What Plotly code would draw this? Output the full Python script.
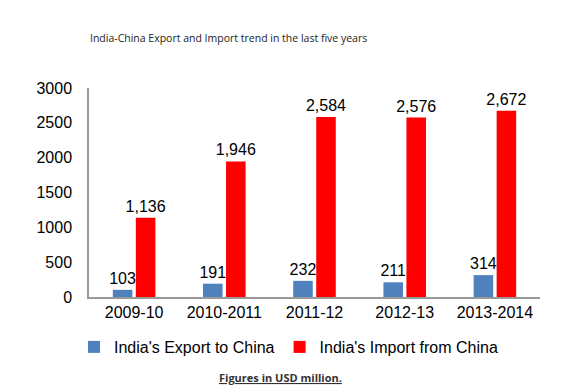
import plotly.graph_objects as go

categories = ["2009-10", "2010-2011", "2011-12", "2012-13", "2013-2014"]
exports = [103, 191, 232, 211, 314]
imports = [1136, 1946, 2584, 2576, 2672]
y_ticks = [0, 500, 1000, 1500, 2000, 2500, 3000]

font_main = "Liberation Sans, Arial, sans-serif"

fig = go.Figure()
fig.add_trace(go.Bar(
    x=categories, y=exports, name="India's Export to China",
    marker=dict(color="#4F81BD", line=dict(width=12, color="rgba(0,0,0,0)")),
    texttemplate="%{y:,}", textposition="outside",
    constraintext="none",
    textfont=dict(size=16, color="black", family=font_main), cliponaxis=False,
))
fig.add_trace(go.Bar(
    x=categories, y=imports, name="India's Import from China",
    marker=dict(color="#FF0000", line=dict(width=12, color="rgba(0,0,0,0)")),
    texttemplate="%{y:,}", textposition="outside",
    constraintext="none",
    textfont=dict(size=16, color="black", family=font_main), cliponaxis=False,
))

fig.update_layout(
    width=574, height=391,
    margin=dict(l=89, r=34, t=88, b=94, autoexpand=False),
    paper_bgcolor="white", plot_bgcolor="white",
    barmode="group", bargap=0.49, bargroupgap=0.15,
    font=dict(family=font_main, size=16, color="black"),
    showlegend=True,
    legend=dict(orientation="h", xref="container", yref="container",
                x=74 / 574, xanchor="left", y=1 - 347 / 391, yanchor="middle",
                font=dict(size=16, family=font_main), itemwidth=30,
                bgcolor="rgba(0,0,0,0)"),
    annotations=[
        dict(text="India-China Export and Import trend in the last five years",
             xref="paper", yref="paper", x=(88 - 89) / 451, y=(297 - 38) / 209, showarrow=False,
             xanchor="left", yanchor="middle",
             font=dict(family="Open Sans, sans-serif", size=10.5, color="#222222")),
        dict(text="<b><u>Figures in USD million.</u></b>",
             xref="paper", yref="paper", x=(280 - 89) / 451, y=-(377 - 297) / 209, showarrow=False,
             xanchor="center", yanchor="middle",
             font=dict(family="Open Sans, sans-serif", size=11, color="#333333")),
    ],
)
fig.update_xaxes(type="category", showline=True, linecolor="#999999", linewidth=1.5, ticks="",
                 tickfont=dict(size=16), showgrid=False, automargin=False)
fig.update_yaxes(range=[0, 3000], tickvals=y_ticks, showline=True, linecolor="#999999",
                 linewidth=1.5, ticks="", showgrid=False, zeroline=False, automargin=False,
                 tickfont=dict(size=16), ticklabelstandoff=12)

fig.write_html("out.html", config={"displayModeBar": False},
               post_script="document.body.style.margin='0';document.body.style.overflow='hidden';")
